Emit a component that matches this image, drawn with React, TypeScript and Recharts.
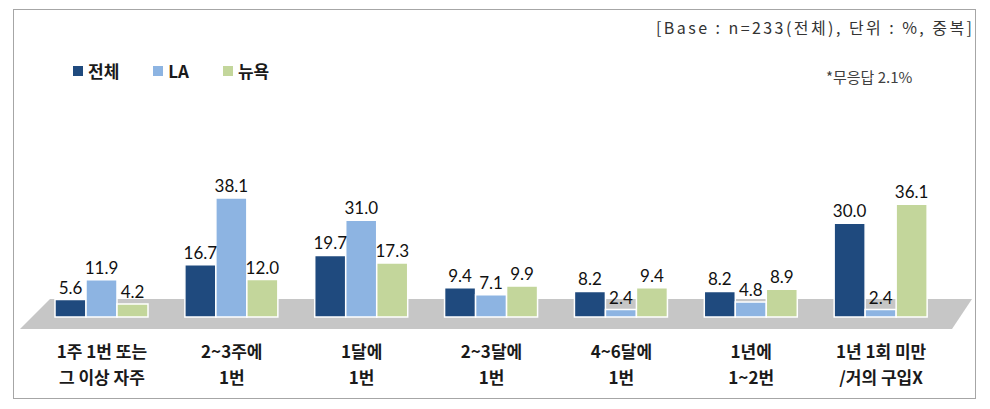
import { BarChart, Bar, XAxis, YAxis, LabelList } from 'recharts';

const categories = [
  '1주 1번 또는\n그 이상 자주',
  '2~3주에\n1번',
  '1달에\n1번',
  '2~3달에\n1번',
  '4~6달에\n1번',
  '1년에\n1~2번',
  '1년 1회 미만\n/거의 구입X',
];
const totalValues = [5.6, 16.7, 19.7, 9.4, 8.2, 8.2, 30.0];
const laValues = [11.9, 38.1, 31.0, 7.1, 2.4, 4.8, 2.4];
const nyValues = [4.2, 12.0, 17.3, 9.9, 9.4, 8.9, 36.1];

const series = [
  { key: 'total', name: '전체', color: '#1F4A7E' },
  { key: 'la', name: 'LA', color: '#8DB4E2' },
  { key: 'ny', name: '뉴욕', color: '#C3D69B' },
];

const data = categories.map((name, i) => ({
  name,
  total: totalValues[i],
  la: laValues[i],
  ny: nyValues[i],
}));

const W = 961;
const H = 388;

const CategoryTick = ({ x, y, payload }: any) => {
  const lines = String(payload.value).split('\n');
  return (
    <text
      x={x}
      y={y}
      textAnchor="middle"
      fontFamily="'Noto Sans CJK KR', sans-serif"
      fontWeight={700}
      fontSize={17}
      fill="#1a1a1a"
    >
      {lines.map((l, i) => (
        <tspan key={i} x={x} dy={i === 0 ? 41 : 26}>
          {l}
        </tspan>
      ))}
    </text>
  );
};

export default function App() {
  return (
    <div
      style={{
        marginLeft: 5,
        marginTop: 1,
        width: W,
        height: H,
        border: '1px solid #A6A6A6',
        position: 'relative',
        background: '#fff',
      }}
    >
      {/* floor + header texts */}
      <svg width={W} height={H} style={{ position: 'absolute', left: 0, top: 0 }}>
        <polygon points="36,289 958,289 938,319 6,319" fill="#C6C6C6" />
        <text
          x={958}
          y={24}
          textAnchor="end"
          fontFamily="'Noto Sans CJK KR', sans-serif"
          fontSize={16}
          fill="#333"
          textLength={316}
        >
          [Base : n=233(전체), 단위 : %, 중복]
        </text>
        <text
          x={812}
          y={73}
          fontFamily="'Noto Sans CJK KR', sans-serif"
          fontSize={15}
          fill="#404040"
        >
          *무응답 2.1%
        </text>
      </svg>

      {/* legend */}
      <div
        style={{
          position: 'absolute',
          left: 59,
          top: 48,
          display: 'flex',
          alignItems: 'center',
          fontFamily: "'Noto Sans CJK KR', sans-serif",
          fontWeight: 700,
          fontSize: 17,
          color: '#1a1a1a',
        }}
      >
        {series.map((s) => (
          <div key={s.key} style={{ display: 'flex', alignItems: 'center', marginRight: 34 }}>
            <div style={{ width: 10, height: 10, background: s.color, marginRight: 5 }} />
            <span>{s.name}</span>
          </div>
        ))}
      </div>

      <div style={{ position: 'absolute', left: 0, top: 0 }}>
        <BarChart
          width={W}
          height={H}
          data={data}
          margin={{ top: 182, right: 29, bottom: 0, left: 23 }}
          barCategoryGap={18}
          barGap={0}
        >
          <XAxis
            dataKey="name"
            axisLine={false}
            tickLine={false}
            tickSize={0}
            tickMargin={0}
            height={81}
            interval={0}
            tick={<CategoryTick />}
          />
          <YAxis hide domain={[0, 40]} />
          {series.map((s) => (
            <Bar
              key={s.key}
              dataKey={s.key}
              name={s.name}
              fill={s.color}
              stroke="#fff"
              strokeWidth={1.5}
              isAnimationActive={false}
            >
              <LabelList
                dataKey={s.key}
                position="top"
                offset={6}
                formatter={(v: any) => Number(v).toFixed(1)}
                style={{ fontFamily: 'Lato, sans-serif', fontSize: 17, fill: '#111' }}
              />
            </Bar>
          ))}
        </BarChart>
      </div>
    </div>
  );
}
